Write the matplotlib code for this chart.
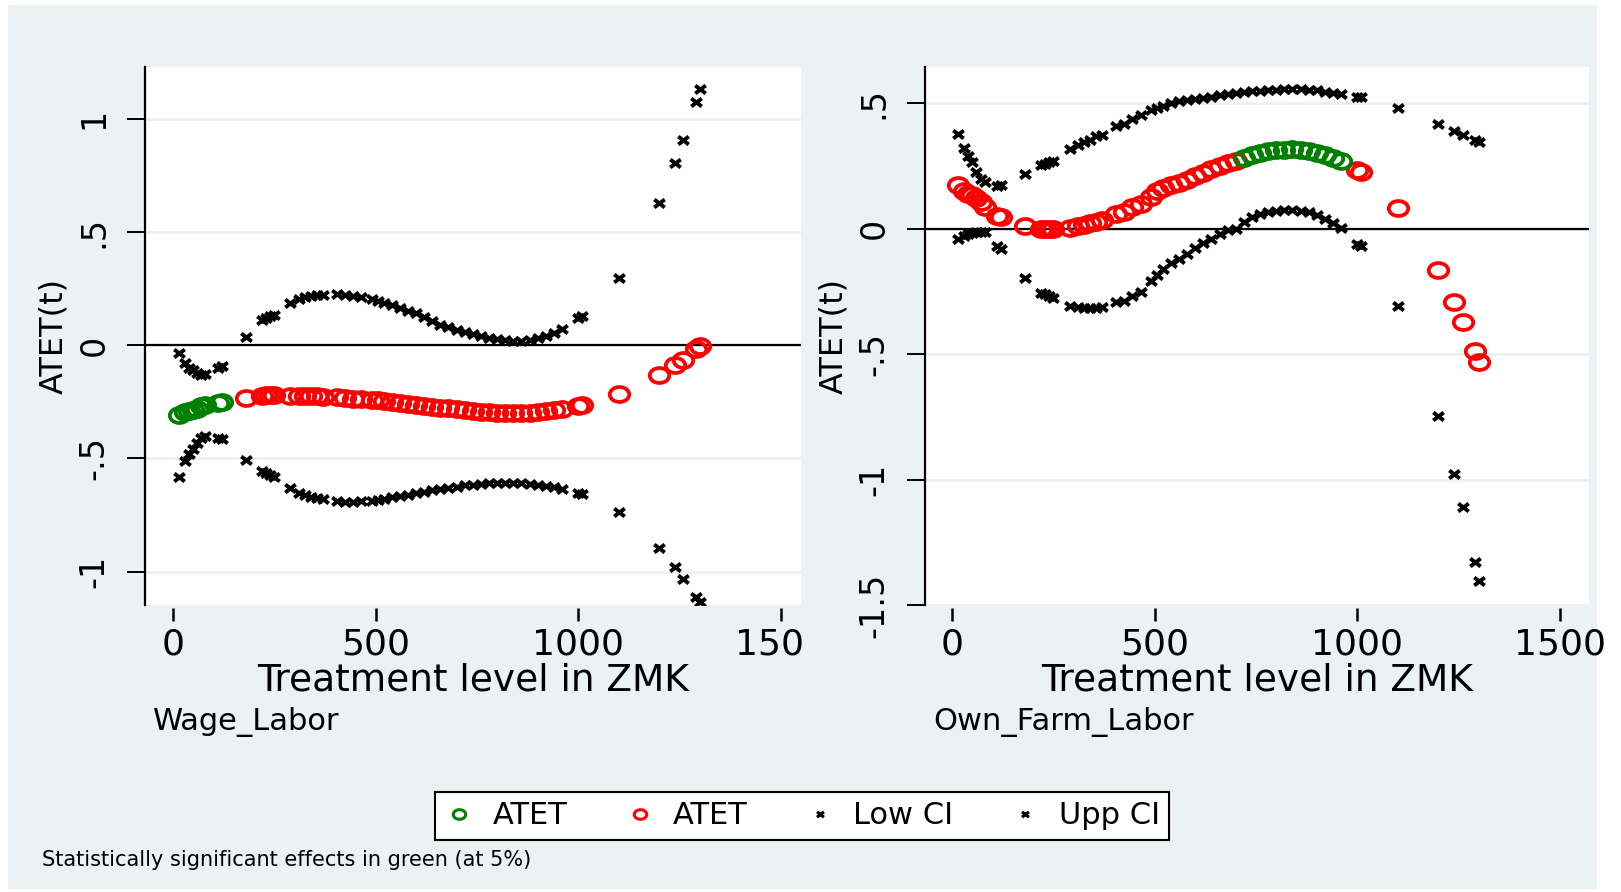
import numpy as np
import matplotlib
matplotlib.use("Agg")
import matplotlib.pyplot as plt
from matplotlib.path import Path
from matplotlib.patches import Rectangle
from matplotlib.lines import Line2D
from matplotlib.transforms import Bbox, TransformedBbox

plt.rcParams["font.family"] = ["DejaVu Sans"]

# treatment levels (ZMK), shared by both outcomes
treatment = [15, 30, 40, 50, 60, 70, 80, 110, 120, 180, 220, 230, 240, 250,
             290, 310, 325, 340, 355, 370, 405, 425, 445, 465, 490, 505, 520,
             540, 560, 580, 600, 620, 640, 660, 680, 700, 720, 740, 760, 780,
             800, 820, 840, 860, 880, 900, 920, 940, 960, 1000, 1010, 1100,
             1200, 1240, 1260, 1290, 1300]

# Wage_Labor
wage_atet = [-0.308, -0.295, -0.29, -0.285, -0.28, -0.27, -0.265, -0.255, -0.252,
             -0.232, -0.222, -0.221, -0.221, -0.22, -0.222, -0.222, -0.224, -0.225,
             -0.226, -0.227, -0.23, -0.233, -0.236, -0.238, -0.24, -0.243, -0.246,
             -0.251, -0.255, -0.259, -0.263, -0.267, -0.271, -0.275, -0.279, -0.283,
             -0.286, -0.29, -0.293, -0.295, -0.297, -0.298, -0.298, -0.298, -0.297,
             -0.294, -0.291, -0.287, -0.283, -0.268, -0.265, -0.217, -0.132, -0.088,
             -0.063, -0.017, -0.002]
wage_low = [-0.58, -0.51, -0.48, -0.46, -0.433, -0.411, -0.40, -0.41, -0.415,
            -0.507, -0.555, -0.565, -0.575, -0.58, -0.632, -0.652, -0.662, -0.67,
            -0.676, -0.68, -0.686, -0.69, -0.69, -0.688, -0.686, -0.683, -0.68,
            -0.672, -0.667, -0.66, -0.654, -0.648, -0.641, -0.636, -0.63, -0.624,
            -0.619, -0.615, -0.612, -0.61, -0.609, -0.608, -0.608, -0.609, -0.612,
            -0.617, -0.622, -0.628, -0.635, -0.652, -0.657, -0.736, -0.894, -0.977,
            -1.032, -1.112, -1.134]
wage_upp = [-0.035, -0.08, -0.10, -0.11, -0.124, -0.13, -0.125, -0.10, -0.09,
            0.038, 0.11, 0.12, 0.13, 0.135, 0.185, 0.205, 0.212, 0.218,
            0.222, 0.224, 0.226, 0.224, 0.218, 0.212, 0.205, 0.195, 0.188,
            0.176, 0.165, 0.153, 0.141, 0.124, 0.106, 0.091, 0.079, 0.068,
            0.058, 0.048, 0.040, 0.032, 0.026, 0.022, 0.020, 0.020, 0.023,
            0.030, 0.040, 0.055, 0.072, 0.12, 0.13, 0.296, 0.628, 0.803,
            0.907, 1.076, 1.133]

# Own_Farm_Labor
farm_atet = [0.172, 0.15, 0.138, 0.132, 0.12, 0.106, 0.086, 0.05, 0.046,
             0.009, 0.0, -0.001, 0.0, 0.0, 0.002, 0.01, 0.016, 0.022,
             0.028, 0.033, 0.058, 0.066, 0.085, 0.10, 0.126, 0.148, 0.162,
             0.172, 0.183, 0.195, 0.208, 0.221, 0.238, 0.25, 0.262, 0.271,
             0.283, 0.294, 0.302, 0.308, 0.312, 0.315, 0.316, 0.314, 0.31,
             0.303, 0.292, 0.283, 0.27, 0.235, 0.226, 0.084, -0.164, -0.294,
             -0.372, -0.486, -0.533]
farm_low = [-0.041, -0.03, -0.022, -0.017, -0.015, -0.012, -0.015, -0.07, -0.08,
            -0.196, -0.255, -0.262, -0.27, -0.276, -0.31, -0.314, -0.316, -0.316,
            -0.315, -0.312, -0.293, -0.287, -0.267, -0.253, -0.207, -0.185, -0.162,
            -0.138, -0.12, -0.10, -0.078, -0.058, -0.04, -0.022, -0.007, -0.002,
            0.028, 0.045, 0.057, 0.065, 0.07, 0.073, 0.075, 0.072, 0.065,
            0.055, 0.039, 0.024, 0.004, -0.06, -0.07, -0.31, -0.747, -0.977,
            -1.111, -1.327, -1.406]
farm_upp = [0.378, 0.32, 0.29, 0.265, 0.225, 0.199, 0.186, 0.17, 0.172,
            0.216, 0.252, 0.258, 0.265, 0.27, 0.318, 0.333, 0.345, 0.355,
            0.368, 0.375, 0.41, 0.418, 0.438, 0.452, 0.472, 0.482, 0.49,
            0.50, 0.507, 0.512, 0.516, 0.52, 0.526, 0.531, 0.535, 0.539,
            0.543, 0.547, 0.55, 0.552, 0.554, 0.555, 0.556, 0.556, 0.554,
            0.551, 0.545, 0.541, 0.537, 0.526, 0.523, 0.48, 0.418, 0.39,
            0.372, 0.352, 0.345]

BG = "#eaf2f3"
GREEN = "#008000"
RED = "#ff0000"

# markers are a bit wider than tall
_c = Path.unit_circle()
ring = Path(_c.vertices * [1.3, 1.0], _c.codes)
cross = Path([(-1.3, -1), (1.3, 1), (-1.3, 1), (1.3, -1)],
             [Path.MOVETO, Path.LINETO, Path.MOVETO, Path.LINETO])


def panel(ax, low, atet, upp, xlim, ylim, yticks, ylabels):
    t = np.array(treatment)
    low = np.array(low)
    atet = np.array(atet)
    upp = np.array(upp)
    sig = (upp < 0) | (low > 0)

    ax.set_facecolor("white")
    ax.axhline(0, color="black", lw=1.6, zorder=2)
    ax.plot(t[~sig], atet[~sig], ls="none", marker=ring, ms=14,
            mfc="none", mec=RED, mew=2.7, zorder=3)
    ax.plot(t[sig], atet[sig], ls="none", marker=ring, ms=14,
            mfc="none", mec=GREEN, mew=2.7, zorder=3)
    ax.plot(t, low, ls="none", marker=cross, ms=7.5, mec="black", mew=2.8, zorder=4)
    ax.plot(t, upp, ls="none", marker=cross, ms=7.5, mec="black", mew=2.8, zorder=4)

    ax.set_xlim(*xlim)
    ax.set_ylim(*ylim)
    ax.set_xticks([0, 500, 1000, 1500])
    ax.set_xticklabels(["0", "500", "1000", "1500"])
    ax.set_yticks(yticks)
    ax.set_yticklabels(ylabels)
    ax.yaxis.grid(True, color=BG, lw=2)
    ax.set_axisbelow(True)

    for s in ["top", "right", "bottom"]:
        ax.spines[s].set_visible(False)
    ax.spines["bottom"].set_position(("outward", 2))
    ax.spines["left"].set_linewidth(1.6)

    ax.tick_params(axis="x", direction="out", length=9, width=1.8, pad=5,
                   labelsize=26)
    ax.tick_params(axis="y", direction="out", length=13, width=1.4, pad=12,
                   labelsize=24, labelrotation=90)
    for lab in ax.get_yticklabels():
        lab.set_va("center")
    ax.set_xlabel("Treatment level in ZMK", fontsize=27, labelpad=1)
    ax.set_ylabel("ATET(t)", fontsize=23, labelpad=6)


fig = plt.figure(figsize=(16.21, 8.92), dpi=100)
fig.patch.set_facecolor("white")
fig.patches.append(Rectangle((8 / 1621, 3 / 892), 1589 / 1621, 884 / 892,
                             transform=fig.transFigure, facecolor=BG,
                             edgecolor="none", zorder=-10))

axL = fig.add_axes([145 / 1621, 1 - 605 / 892, 656 / 1621, 538 / 892])
axR = fig.add_axes([925 / 1621, 1 - 605 / 892, 664 / 1621, 538 / 892])

panel(axL, wage_low, wage_atet, wage_upp, (-69, 1550), (-1.147, 1.229),
      [-1, -0.5, 0, 0.5, 1], ["-1", "-.5", "0", ".5", "1"])
panel(axR, farm_low, farm_atet, farm_upp, (-67, 1572), (-1.5, 0.644),
      [-1.5, -1, -0.5, 0, 0.5], ["-1.5", "-1", "-.5", "0", ".5"])

# the last tick label of the left panel runs into the right one
last = axL.get_xticklabels()[-1]
last.set_clip_box(TransformedBbox(Bbox.from_extents(0, 0, 804 / 1621, 1),
                                  fig.transFigure))
last.set_clip_on(True)

fig.text(153 / 1621, 1 - 722 / 892, "Wage_Labor", fontsize=22, va="center")
fig.text(933 / 1621, 1 - 722 / 892, "Own_Farm_Labor", fontsize=22, va="center")

handles = [
    Line2D([], [], ls="none", marker=ring, ms=9, mfc="none", mec=GREEN, mew=2.2),
    Line2D([], [], ls="none", marker=ring, ms=9, mfc="none", mec=RED, mew=2.2),
    Line2D([], [], ls="none", marker=cross, ms=5, mec="black", mew=2.2),
    Line2D([], [], ls="none", marker=cross, ms=5, mec="black", mew=2.2),
]
leg = fig.legend(handles, ["ATET", "ATET", "Low CI", "Upp CI"], loc="center",
                 bbox_to_anchor=(802 / 1621, 1 - 816 / 892), ncol=4,
                 fontsize=22, frameon=True, fancybox=False, edgecolor="black",
                 framealpha=1, handlelength=1.0, handletextpad=0.6,
                 columnspacing=1.85, borderpad=0.3)
leg.get_frame().set_linewidth(1.5)

fig.text(42 / 1621, 1 - 860 / 892,
         "Statistically significant effects in green (at 5%)",
         fontsize=15, va="center")

fig.savefig("out.png", dpi=100, facecolor=fig.get_facecolor())
